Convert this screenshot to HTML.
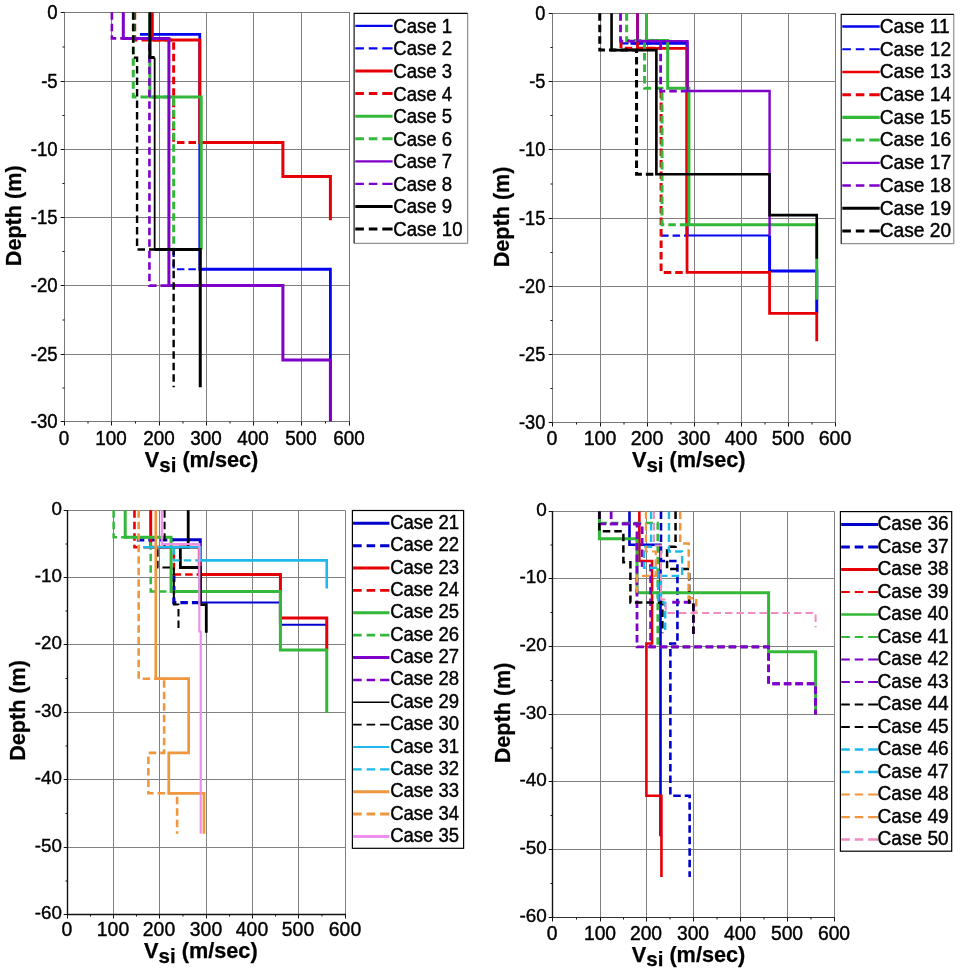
<!DOCTYPE html>
<html lang="en">
<head>
<meta charset="utf-8">
<title>Shear wave velocity profiles</title>
<style>
html,body{margin:0;padding:0;background:#fff;}
body{width:963px;height:970px;overflow:hidden;}
svg{display:block;}
text{white-space:pre;}
</style>
</head>
<body>
<svg width="963" height="970" viewBox="0 0 963 970">
<rect x="0" y="0" width="963" height="970" fill="#ffffff"/>
<g id="panel1">
<path d="M111.5 12.5V421.5M159.5 12.5V421.5M206.5 12.5V421.5M253.5 12.5V421.5M301.5 12.5V421.5M64.5 81.5H349.5M64.5 149.5H349.5M64.5 217.5H349.5M64.5 285.5H349.5M64.5 354.5H349.5" stroke="#808080" stroke-width="1" fill="none"/>
<rect x="64.5" y="12.5" width="285" height="409" fill="none" stroke="#777" stroke-width="1"/>
<path d="M64.5 421.5v4M111.5 421.5v4M159.5 421.5v4M206.5 421.5v4M253.5 421.5v4M301.5 421.5v4M349.5 421.5v4M88 421.5v2M135.5 421.5v2M183 421.5v2M230 421.5v2M277.5 421.5v2M325.5 421.5v2M64.5 12.5h-3.8M64.5 81.5h-3.8M64.5 149.5h-3.8M64.5 217.5h-3.8M64.5 285.5h-3.8M64.5 354.5h-3.8M64.5 421.5h-3.8M64.5 47h-2M64.5 115.5h-2M64.5 183.5h-2M64.5 251.5h-2M64.5 320h-2M64.5 388h-2" stroke="#111" stroke-width="1" fill="none"/>
<g fill="none" stroke-linejoin="miter" stroke-linecap="butt">
<polyline points="139.93,34.29 199.78,34.29 199.78,269.24 330.4,269.24 330.4,421.28" stroke="#0505f0" stroke-width="2.8"/>
<polyline points="173.65,249.47 173.65,269.24 199.78,269.24" stroke="#0505f0" stroke-width="2.2" stroke-dasharray="7.5 4"/>
<polyline points="152.28,12.2 152.28,39.88 199.78,39.88 199.78,142.42 282.9,142.42 282.9,176.51 330.4,176.51 330.4,220.15" stroke="#e60005" stroke-width="3"/>
<polyline points="134.7,12.2 134.7,39.88 173.65,39.88 173.65,142.42 199.78,142.42" stroke="#e60005" stroke-width="3" stroke-dasharray="7.5 4"/>
<polyline points="149.9,12.2 149.9,97.02 201.2,97.02 201.2,249.47" stroke="#33b83a" stroke-width="3"/>
<polyline points="133.28,12.2 133.28,97.02 173.65,97.02 173.65,249.47" stroke="#33b83a" stroke-width="3" stroke-dasharray="7.5 4"/>
<polyline points="123.3,12.2 123.3,38.38 168.9,38.38 168.9,285.6 282.9,285.6 282.9,359.92 330.4,359.92 330.4,421.28" stroke="#7f00c8" stroke-width="3"/>
<polyline points="111.9,12.2 111.9,38.38 149.43,38.38 149.43,285.6 168.9,285.6" stroke="#7f00c8" stroke-width="2.6" stroke-dasharray="7.5 4"/>
<polyline points="149.9,12.2 149.9,57.61 154.65,57.61" stroke="#000000" stroke-width="3"/>
<polyline points="154.65,249.47 200.25,249.47 200.25,387.19" stroke="#000000" stroke-width="3"/>
<polyline points="154.65,57.61 154.65,249.47" stroke="#000000" stroke-width="1.8"/>
<polyline points="133.28,12.2 133.28,57.61 137.07,57.61 137.07,249.47 173.65,249.47 173.65,387.19" stroke="#000000" stroke-width="2.4" stroke-dasharray="7.5 4"/>
</g>
<g font-family='"Liberation Sans", Arial, sans-serif' font-size="18.9" fill="#000" stroke="#000" stroke-width="0.4">
<text transform="translate(64 444.5) scale(1 1.108)" text-anchor="middle">0</text>
<text transform="translate(111 444.5) scale(1 1.108)" text-anchor="middle">100</text>
<text transform="translate(159 444.5) scale(1 1.108)" text-anchor="middle">200</text>
<text transform="translate(206 444.5) scale(1 1.108)" text-anchor="middle">300</text>
<text transform="translate(253 444.5) scale(1 1.108)" text-anchor="middle">400</text>
<text transform="translate(301 444.5) scale(1 1.108)" text-anchor="middle">500</text>
<text transform="translate(349 444.5) scale(1 1.108)" text-anchor="middle">600</text>
<text transform="translate(57.7 19.1) scale(1 1.1)" font-size="18.6" text-anchor="end">0</text>
<text transform="translate(57.7 88.1) scale(1 1.1)" font-size="18.6" text-anchor="end">-5</text>
<text transform="translate(57.7 156.1) scale(1 1.1)" font-size="18.6" text-anchor="end">-10</text>
<text transform="translate(57.7 224.1) scale(1 1.1)" font-size="18.6" text-anchor="end">-15</text>
<text transform="translate(57.7 292.1) scale(1 1.1)" font-size="18.6" text-anchor="end">-20</text>
<text transform="translate(57.7 361.1) scale(1 1.1)" font-size="18.6" text-anchor="end">-25</text>
<text transform="translate(57.7 428.1) scale(1 1.1)" font-size="18.6" text-anchor="end">-30</text>
</g>
<text x="144.8" y="467.4" font-family='"Liberation Sans", Arial, sans-serif' font-size="21.7" font-weight="bold" fill="#000" stroke="#000" stroke-width="0.25">V<tspan dy="4.3" font-size="20.5">si</tspan><tspan dy="-4.3"> (m/sec)</tspan></text>
<text transform="translate(20.9 215.8) rotate(-90)" text-anchor="middle" font-family='"Liberation Sans", Arial, sans-serif' font-size="21.6" font-weight="bold" fill="#000" stroke="#000" stroke-width="0.25">Depth (m)</text>
<rect x="354.1" y="13.4" width="113.6" height="229.9" fill="#fff" stroke="none"/>
<path d="M467.7 13.4V243.3H354.1" fill="none" stroke="#777" stroke-width="1"/>
<path d="M354.1 243.3V13.4H467.7" fill="none" stroke="#000" stroke-width="1.1"/>
<g font-family='"Liberation Sans", Arial, sans-serif' font-size="18.6" fill="#000" stroke="#000" stroke-width="0.4">
<path d="M355.3 25.9H392.6" stroke="#0505f0" stroke-width="2.2" fill="none" stroke-linecap="butt"/>
<text transform="translate(393.3 32.8) scale(1 1.12)">Case 1</text>
<path d="M355.3 48.47H392.6" stroke="#0505f0" stroke-width="2.2" stroke-dasharray="8.6 4.9 8.6 4.9 12 9" fill="none" stroke-linecap="butt"/>
<text transform="translate(393.3 55.37) scale(1 1.12)">Case 2</text>
<path d="M355.3 71.04H392.6" stroke="#e60005" stroke-width="3" fill="none" stroke-linecap="butt"/>
<text transform="translate(393.3 77.94) scale(1 1.12)">Case 3</text>
<path d="M355.3 93.61H392.6" stroke="#e60005" stroke-width="3" stroke-dasharray="8.6 4.9 8.6 4.9 12 9" fill="none" stroke-linecap="butt"/>
<text transform="translate(393.3 100.51) scale(1 1.12)">Case 4</text>
<path d="M355.3 116.18H392.6" stroke="#33b83a" stroke-width="3" fill="none" stroke-linecap="butt"/>
<text transform="translate(393.3 123.08) scale(1 1.12)">Case 5</text>
<path d="M355.3 138.75H392.6" stroke="#33b83a" stroke-width="3" stroke-dasharray="8.6 4.9 8.6 4.9 12 9" fill="none" stroke-linecap="butt"/>
<text transform="translate(393.3 145.65) scale(1 1.12)">Case 6</text>
<path d="M355.3 161.32H392.6" stroke="#7f00c8" stroke-width="2.2" fill="none" stroke-linecap="butt"/>
<text transform="translate(393.3 168.22) scale(1 1.12)">Case 7</text>
<path d="M355.3 183.89H392.6" stroke="#7f00c8" stroke-width="2.2" stroke-dasharray="8.6 4.9 8.6 4.9 12 9" fill="none" stroke-linecap="butt"/>
<text transform="translate(393.3 190.79) scale(1 1.12)">Case 8</text>
<path d="M355.3 206.46H392.6" stroke="#000000" stroke-width="3" fill="none" stroke-linecap="butt"/>
<text transform="translate(393.3 213.36) scale(1 1.12)">Case 9</text>
<path d="M355.3 229.03H392.6" stroke="#000000" stroke-width="3" stroke-dasharray="8.6 4.9 8.6 4.9 12 9" fill="none" stroke-linecap="butt"/>
<text transform="translate(393.3 235.93) scale(1 1.12)">Case 10</text>
</g>
</g>
<g id="panel2">
<path d="M600.5 13.5V422.5M647.5 13.5V422.5M694.5 13.5V422.5M741.5 13.5V422.5M788.5 13.5V422.5M552.5 81.5H835.5M552.5 149.5H835.5M552.5 218.5H835.5M552.5 286.5H835.5M552.5 354.5H835.5" stroke="#808080" stroke-width="1" fill="none"/>
<rect x="552.5" y="13.5" width="283" height="409" fill="none" stroke="#777" stroke-width="1"/>
<path d="M552.5 422.5v4M600.5 422.5v4M647.5 422.5v4M694.5 422.5v4M741.5 422.5v4M788.5 422.5v4M835.5 422.5v4M576.5 422.5v2M624 422.5v2M671 422.5v2M718 422.5v2M765 422.5v2M812 422.5v2M552.5 13.5h-3.8M552.5 81.5h-3.8M552.5 149.5h-3.8M552.5 218.5h-3.8M552.5 286.5h-3.8M552.5 354.5h-3.8M552.5 422.5h-3.8M552.5 47.5h-2M552.5 115.5h-2M552.5 184h-2M552.5 252.5h-2M552.5 320.5h-2M552.5 388.5h-2" stroke="#111" stroke-width="1" fill="none"/>
<g fill="none" stroke-linejoin="miter" stroke-linecap="butt">
<polyline points="630.43,43.3 687.03,43.3 687.03,235.57" stroke="#0505f0" stroke-width="3"/>
<polyline points="769.58,235.57 769.58,271.02 816.75,271.02 816.75,313.29" stroke="#0505f0" stroke-width="3"/>
<polyline points="687.03,235.57 769.58,235.57" stroke="#0505f0" stroke-width="2"/>
<polyline points="621,43.3 661.09,43.3" stroke="#0505f0" stroke-width="2.2" stroke-dasharray="7.5 4"/>
<polyline points="661.09,235.57 687.03,235.57" stroke="#0505f0" stroke-width="2.2" stroke-dasharray="7.5 4"/>
<polyline points="637.51,13.3 637.51,48.34 687.03,48.34 687.03,272.38 769.58,272.38 769.58,313.29 816.75,313.29 816.75,341.25" stroke="#e60005" stroke-width="2.8"/>
<polyline points="621,40.57 621,48.34 661.09,48.34" stroke="#e60005" stroke-width="3" stroke-dasharray="7.5 4"/>
<polyline points="661.09,91.03 661.09,272.38 687.03,272.38" stroke="#e60005" stroke-width="3" stroke-dasharray="7.5 4"/>
<polyline points="646.47,13.3 646.47,40.57 667.69,40.57 667.69,88.3 688.92,88.3 688.92,224.66 816.75,224.66 816.75,299.66" stroke="#33b83a" stroke-width="3"/>
<polyline points="626.66,13.3 626.66,40.57 644.58,40.57 644.58,88.3 662.03,88.3 662.03,224.66 688.92,224.66" stroke="#33b83a" stroke-width="3" stroke-dasharray="7.5 4"/>
<polyline points="637.51,13.3 637.51,41.12 687.51,41.12 687.51,91.03 769.58,91.03 769.58,235.57" stroke="#7f00c8" stroke-width="2.4"/>
<polyline points="620.52,13.3 620.52,41.12 660.62,41.12 660.62,91.03 687.51,91.03" stroke="#7f00c8" stroke-width="2.8" stroke-dasharray="7.5 4"/>
<polyline points="611.56,13.3 611.56,50.12 656.37,50.12 656.37,174.2 769.58,174.2 769.58,215.11 816.75,215.11 816.75,258.75" stroke="#000000" stroke-width="2.6"/>
<polyline points="599.77,13.3 599.77,50.12 636.56,50.12 636.56,174.2 656.37,174.2" stroke="#000000" stroke-width="3" stroke-dasharray="7.5 4"/>
</g>
<g font-family='"Liberation Sans", Arial, sans-serif' font-size="19.6" fill="#000" stroke="#000" stroke-width="0.4">
<text transform="translate(552 444.6) scale(1 1.03)" text-anchor="middle">0</text>
<text transform="translate(600 444.6) scale(1 1.03)" text-anchor="middle">100</text>
<text transform="translate(647 444.6) scale(1 1.03)" text-anchor="middle">200</text>
<text transform="translate(694 444.6) scale(1 1.03)" text-anchor="middle">300</text>
<text transform="translate(741 444.6) scale(1 1.03)" text-anchor="middle">400</text>
<text transform="translate(788 444.6) scale(1 1.03)" text-anchor="middle">500</text>
<text transform="translate(835 444.6) scale(1 1.03)" text-anchor="middle">600</text>
<text transform="translate(545.3 19.65) scale(1 1.14)" font-size="18.2" text-anchor="end">0</text>
<text transform="translate(545.3 87.65) scale(1 1.14)" font-size="18.2" text-anchor="end">-5</text>
<text transform="translate(545.3 155.65) scale(1 1.14)" font-size="18.2" text-anchor="end">-10</text>
<text transform="translate(545.3 224.65) scale(1 1.14)" font-size="18.2" text-anchor="end">-15</text>
<text transform="translate(545.3 292.65) scale(1 1.14)" font-size="18.2" text-anchor="end">-20</text>
<text transform="translate(545.3 360.65) scale(1 1.14)" font-size="18.2" text-anchor="end">-25</text>
<text transform="translate(545.3 428.65) scale(1 1.14)" font-size="18.2" text-anchor="end">-30</text>
</g>
<text x="632" y="467.4" font-family='"Liberation Sans", Arial, sans-serif' font-size="21.7" font-weight="bold" fill="#000" stroke="#000" stroke-width="0.25">V<tspan dy="4.3" font-size="20.5">si</tspan><tspan dy="-4.3"> (m/sec)</tspan></text>
<text transform="translate(508.5 216.9) rotate(-90)" text-anchor="middle" font-family='"Liberation Sans", Arial, sans-serif' font-size="21.6" font-weight="bold" fill="#000" stroke="#000" stroke-width="0.25">Depth (m)</text>
<rect x="841.2" y="14.4" width="112.6" height="229.3" fill="#fff" stroke="none"/>
<path d="M953.8 14.4V243.7H841.2" fill="none" stroke="#777" stroke-width="1"/>
<path d="M841.2 243.7V14.4H953.8" fill="none" stroke="#000" stroke-width="1.1"/>
<g font-family='"Liberation Sans", Arial, sans-serif' font-size="19.2" fill="#000" stroke="#000" stroke-width="0.4">
<path d="M842.3 26.6H879.7" stroke="#0505f0" stroke-width="2.5" fill="none" stroke-linecap="butt"/>
<text transform="translate(879.7 32.9) scale(1 1.085)">Case 11</text>
<path d="M842.3 49.3H879.7" stroke="#0505f0" stroke-width="2" stroke-dasharray="8.6 4.9 8.6 4.9 12 9" fill="none" stroke-linecap="butt"/>
<text transform="translate(879.7 55.6) scale(1 1.085)">Case 12</text>
<path d="M842.3 72H879.7" stroke="#e60005" stroke-width="2.6" fill="none" stroke-linecap="butt"/>
<text transform="translate(879.7 78.3) scale(1 1.085)">Case 13</text>
<path d="M842.3 94.7H879.7" stroke="#e60005" stroke-width="3" stroke-dasharray="8.6 4.9 8.6 4.9 12 9" fill="none" stroke-linecap="butt"/>
<text transform="translate(879.7 101) scale(1 1.085)">Case 14</text>
<path d="M842.3 117.4H879.7" stroke="#33b83a" stroke-width="3.2" fill="none" stroke-linecap="butt"/>
<text transform="translate(879.7 123.7) scale(1 1.085)">Case 15</text>
<path d="M842.3 140.1H879.7" stroke="#33b83a" stroke-width="3" stroke-dasharray="8.6 4.9 8.6 4.9 12 9" fill="none" stroke-linecap="butt"/>
<text transform="translate(879.7 146.4) scale(1 1.085)">Case 16</text>
<path d="M842.3 162.8H879.7" stroke="#7f00c8" stroke-width="2.2" fill="none" stroke-linecap="butt"/>
<text transform="translate(879.7 169.1) scale(1 1.085)">Case 17</text>
<path d="M842.3 185.5H879.7" stroke="#7f00c8" stroke-width="2.6" stroke-dasharray="8.6 4.9 8.6 4.9 12 9" fill="none" stroke-linecap="butt"/>
<text transform="translate(879.7 191.8) scale(1 1.085)">Case 18</text>
<path d="M842.3 208.2H879.7" stroke="#000000" stroke-width="3" fill="none" stroke-linecap="butt"/>
<text transform="translate(879.7 214.5) scale(1 1.085)">Case 19</text>
<path d="M842.3 230.9H879.7" stroke="#000000" stroke-width="3" stroke-dasharray="8.6 4.9 8.6 4.9 12 9" fill="none" stroke-linecap="butt"/>
<text transform="translate(879.7 237.2) scale(1 1.085)">Case 20</text>
</g>
</g>
<g id="panel3">
<path d="M113.5 510.5V914.5M159.5 510.5V914.5M206.5 510.5V914.5M252.5 510.5V914.5M298.5 510.5V914.5M67.5 577.5H345.5M67.5 644.5H345.5M67.5 712.5H345.5M67.5 779.5H345.5M67.5 847.5H345.5" stroke="#808080" stroke-width="1" fill="none"/>
<path d="M67.5 510.5H345.5V914.5" fill="none" stroke="#808080" stroke-width="1"/>
<path d="M67.5 510V914.5H346" fill="none" stroke="#111" stroke-width="1.4"/>
<path d="M67.5 914.5v4M113.5 914.5v4M159.5 914.5v4M206.5 914.5v4M252.5 914.5v4M298.5 914.5v4M345.5 914.5v4M90.5 914.5v2M136.5 914.5v2M183 914.5v2M229.5 914.5v2M275.5 914.5v2M322 914.5v2M67.5 510.5h-3.8M67.5 577.5h-3.8M67.5 644.5h-3.8M67.5 712.5h-3.8M67.5 779.5h-3.8M67.5 847.5h-3.8M67.5 914.5h-3.8M67.5 544h-2M67.5 611h-2M67.5 678.5h-2M67.5 746h-2M67.5 813.5h-2M67.5 881h-2" stroke="#111" stroke-width="1" fill="none"/>
<g fill="none" stroke-linejoin="miter" stroke-linecap="butt">
<polyline points="171.54,539.86 200.27,539.86 200.27,602.54" stroke="#0000cc" stroke-width="3"/>
<polyline points="280.42,602.54 280.42,624.78" stroke="#0000cc" stroke-width="3"/>
<polyline points="200.27,602.54 280.42,602.54" stroke="#0000cc" stroke-width="2"/>
<polyline points="280.42,624.78 326.75,624.78" stroke="#0000cc" stroke-width="2"/>
<polyline points="136.8,539.86 173.86,539.86" stroke="#0000cc" stroke-width="3.2" stroke-dasharray="7.5 4"/>
<polyline points="173.86,574.57 173.86,602.54 200.27,602.54" stroke="#0000cc" stroke-width="3.2" stroke-dasharray="7.5 4"/>
<polyline points="150.69,510.2 150.69,547.27 199.34,547.27 199.34,574.57 280.42,574.57 280.42,618.04 326.75,618.04 326.75,650.06" stroke="#e60005" stroke-width="3"/>
<polyline points="134.48,510.2 134.48,547.27 173.86,547.27 173.86,574.57 199.34,574.57" stroke="#e60005" stroke-width="2.6" stroke-dasharray="7.5 4"/>
<polyline points="125.21,510.2 125.21,537.16 171.08,537.16 171.08,591.42 280.42,591.42 280.42,650.06 326.75,650.06 326.75,713.07" stroke="#33b83a" stroke-width="3"/>
<polyline points="113.63,510.2 113.63,537.16 150.69,537.16 150.69,591.42 171.08,591.42" stroke="#33b83a" stroke-width="2.5" stroke-dasharray="7.5 4"/>
<polyline points="188.22,510.2 188.22,547.27 180.35,547.27 180.35,567.49 200.27,567.49 200.27,604.56 206.29,604.56 206.29,632.87" stroke="#000000" stroke-width="2.8"/>
<polyline points="164.59,510.2 164.59,547.27 157.64,547.27 157.64,567.49 173.86,567.49 173.86,604.56 178.49,604.56 178.49,629.5" stroke="#000000" stroke-width="2.0" stroke-dasharray="7.5 4"/>
<polyline points="143.74,547.27 200.27,547.27 200.27,560.41 326.75,560.41 326.75,588.38" stroke="#1eb9ea" stroke-width="2.6"/>
<polyline points="173.86,547.27 173.86,560.41 200.27,560.41" stroke="#1eb9ea" stroke-width="2.4" stroke-dasharray="7.5 4"/>
<polyline points="155.79,510.2 155.79,678.7" stroke="#f0963c" stroke-width="2.7"/>
<polyline points="155.79,678.7 188.68,678.7 188.68,752.84 168.76,752.84 168.76,793.28 203.97,793.28 203.97,833.72" stroke="#f0963c" stroke-width="2.7"/>
<polyline points="138.65,510.2 138.65,678.7 164.13,678.7 164.13,752.84 148.38,752.84 148.38,793.28 177.1,793.28 177.1,833.72" stroke="#f0963c" stroke-width="2.6" stroke-dasharray="7.5 4"/>
<polyline points="161.81,510.2 161.81,544.1 199.34,544.1 199.34,631.52 200.73,631.52 200.73,833.72" stroke="#ee8ff0" stroke-width="2.2"/>
</g>
<g font-family='"Liberation Sans", Arial, sans-serif' font-size="19.4" fill="#000" stroke="#000" stroke-width="0.4">
<text transform="translate(67 935.9) scale(1 1.008)" text-anchor="middle">0</text>
<text transform="translate(113 935.9) scale(1 1.008)" text-anchor="middle">100</text>
<text transform="translate(159 935.9) scale(1 1.008)" text-anchor="middle">200</text>
<text transform="translate(206 935.9) scale(1 1.008)" text-anchor="middle">300</text>
<text transform="translate(252 935.9) scale(1 1.008)" text-anchor="middle">400</text>
<text transform="translate(298 935.9) scale(1 1.008)" text-anchor="middle">500</text>
<text transform="translate(345 935.9) scale(1 1.008)" text-anchor="middle">600</text>
<text transform="translate(61.8 515.2) scale(1 0.985)" font-size="18.75" text-anchor="end">0</text>
<text transform="translate(61.8 582.2) scale(1 0.985)" font-size="18.75" text-anchor="end">-10</text>
<text transform="translate(61.8 649.2) scale(1 0.985)" font-size="18.75" text-anchor="end">-20</text>
<text transform="translate(61.8 717.2) scale(1 0.985)" font-size="18.75" text-anchor="end">-30</text>
<text transform="translate(61.8 784.2) scale(1 0.985)" font-size="18.75" text-anchor="end">-40</text>
<text transform="translate(61.8 852.2) scale(1 0.985)" font-size="18.75" text-anchor="end">-50</text>
<text transform="translate(61.8 919.2) scale(1 0.985)" font-size="18.75" text-anchor="end">-60</text>
</g>
<text x="144.1" y="958.3" font-family='"Liberation Sans", Arial, sans-serif' font-size="21.7" font-weight="bold" fill="#000" stroke="#000" stroke-width="0.25">V<tspan dy="4.3" font-size="20.5">si</tspan><tspan dy="-4.3"> (m/sec)</tspan></text>
<text transform="translate(24.7 710.4) rotate(-90)" text-anchor="middle" font-family='"Liberation Sans", Arial, sans-serif' font-size="21.6" font-weight="bold" fill="#000" stroke="#000" stroke-width="0.25">Depth (m)</text>
<rect x="352.4" y="510.5" width="111.2" height="337.8" fill="#fff" stroke="none"/>
<rect x="352.4" y="510.5" width="111.2" height="337.8" fill="none" stroke="#000" stroke-width="1.2"/>
<g font-family='"Liberation Sans", Arial, sans-serif' font-size="18.5" fill="#000" stroke="#000" stroke-width="0.4">
<path d="M353.1 523.3H389.4" stroke="#0000cc" stroke-width="3" fill="none" stroke-linecap="butt"/>
<text transform="translate(390.2 528.8) scale(1 1.065)">Case 21</text>
<path d="M353.1 545.67H389.4" stroke="#0000cc" stroke-width="3" stroke-dasharray="8.6 4.9 8.6 4.9 12 9" fill="none" stroke-linecap="butt"/>
<text transform="translate(390.2 551.17) scale(1 1.065)">Case 22</text>
<path d="M353.1 568.04H389.4" stroke="#e60005" stroke-width="3" fill="none" stroke-linecap="butt"/>
<text transform="translate(390.2 573.54) scale(1 1.065)">Case 23</text>
<path d="M353.1 590.41H389.4" stroke="#e60005" stroke-width="2.6" stroke-dasharray="8.6 4.9 8.6 4.9 12 9" fill="none" stroke-linecap="butt"/>
<text transform="translate(390.2 595.91) scale(1 1.065)">Case 24</text>
<path d="M353.1 612.78H389.4" stroke="#33b83a" stroke-width="3" fill="none" stroke-linecap="butt"/>
<text transform="translate(390.2 618.28) scale(1 1.065)">Case 25</text>
<path d="M353.1 635.15H389.4" stroke="#33b83a" stroke-width="2.8" stroke-dasharray="8.6 4.9 8.6 4.9 12 9" fill="none" stroke-linecap="butt"/>
<text transform="translate(390.2 640.65) scale(1 1.065)">Case 26</text>
<path d="M353.1 657.52H389.4" stroke="#7f00c8" stroke-width="3" fill="none" stroke-linecap="butt"/>
<text transform="translate(390.2 663.02) scale(1 1.065)">Case 27</text>
<path d="M353.1 679.89H389.4" stroke="#7f00c8" stroke-width="2.5" stroke-dasharray="8.6 4.9 8.6 4.9 12 9" fill="none" stroke-linecap="butt"/>
<text transform="translate(390.2 685.39) scale(1 1.065)">Case 28</text>
<path d="M353.1 702.26H389.4" stroke="#000000" stroke-width="1.6" fill="none" stroke-linecap="butt"/>
<text transform="translate(390.2 707.76) scale(1 1.065)">Case 29</text>
<path d="M353.1 724.63H389.4" stroke="#000000" stroke-width="1.6" stroke-dasharray="8.6 4.9 8.6 4.9 12 9" fill="none" stroke-linecap="butt"/>
<text transform="translate(390.2 730.13) scale(1 1.065)">Case 30</text>
<path d="M353.1 747H389.4" stroke="#1eb9ea" stroke-width="2.2" fill="none" stroke-linecap="butt"/>
<text transform="translate(390.2 752.5) scale(1 1.065)">Case 31</text>
<path d="M353.1 769.37H389.4" stroke="#1eb9ea" stroke-width="2.4" stroke-dasharray="8.6 4.9 8.6 4.9 12 9" fill="none" stroke-linecap="butt"/>
<text transform="translate(390.2 774.87) scale(1 1.065)">Case 32</text>
<path d="M353.1 791.74H389.4" stroke="#f0963c" stroke-width="3" fill="none" stroke-linecap="butt"/>
<text transform="translate(390.2 797.24) scale(1 1.065)">Case 33</text>
<path d="M353.1 814.11H389.4" stroke="#f0963c" stroke-width="3" stroke-dasharray="8.6 4.9 8.6 4.9 12 9" fill="none" stroke-linecap="butt"/>
<text transform="translate(390.2 819.61) scale(1 1.065)">Case 34</text>
<path d="M353.1 836.48H389.4" stroke="#ee8ff0" stroke-width="3" fill="none" stroke-linecap="butt"/>
<text transform="translate(390.2 841.98) scale(1 1.065)">Case 35</text>
</g>
</g>
<g id="panel4">
<path d="M600.5 511.5V917.5M646.5 511.5V917.5M693.5 511.5V917.5M740.5 511.5V917.5M787.5 511.5V917.5M552.5 578.5H834.5M552.5 646.5H834.5M552.5 714.5H834.5M552.5 781.5H834.5M552.5 849.5H834.5" stroke="#808080" stroke-width="1" fill="none"/>
<path d="M552.5 511.5H834.5V917.5" fill="none" stroke="#808080" stroke-width="1"/>
<path d="M552.5 917.5H835" fill="none" stroke="#333" stroke-width="1.1"/>
<path d="M552.5 511V918" fill="none" stroke="#111" stroke-width="1.4"/>
<path d="M552.5 917.5v4M600.5 917.5v4M646.5 917.5v4M693.5 917.5v4M740.5 917.5v4M787.5 917.5v4M834.5 917.5v4M576.5 917.5v2M623.5 917.5v2M670 917.5v2M717 917.5v2M764 917.5v2M811 917.5v2M552.5 511.5h-3.8M552.5 578.5h-3.8M552.5 646.5h-3.8M552.5 714.5h-3.8M552.5 781.5h-3.8M552.5 849.5h-3.8M552.5 917.5h-3.8M552.5 545h-2M552.5 612.5h-2M552.5 680.5h-2M552.5 748h-2M552.5 815.5h-2M552.5 883.5h-2" stroke="#111" stroke-width="1" fill="none"/>
<g fill="none" stroke-linejoin="miter" stroke-linecap="butt">
<polyline points="629.48,511.6 629.48,544.75 660.5,544.75 660.5,836.32" stroke="#0000cc" stroke-width="2.6"/>
<polyline points="660.97,511.6 660.97,560.98 677.42,560.98 677.42,643.52 670.37,643.52 670.37,795.73 689.64,795.73 689.64,876.91" stroke="#0000cc" stroke-width="2.6" stroke-dasharray="7.5 4"/>
<polyline points="639.35,511.6 639.35,560.98 652.04,560.98 652.04,643.52 646.4,643.52 646.4,795.73 661.44,795.73 661.44,876.91" stroke="#e60005" stroke-width="2.6"/>
<polyline points="599.4,511.6 599.4,538.66 637,538.66 637,592.78 768.6,592.78 768.6,651.64 815.6,651.64 815.6,714.55" stroke="#33b83a" stroke-width="3"/>
<polyline points="599.4,511.6 599.4,523.1 657.68,523.1 657.68,646.9 768.6,646.9" stroke="#33b83a" stroke-width="2.5" stroke-dasharray="7.5 4"/>
<polyline points="611.15,511.6 611.15,523.78 642.17,523.78 642.17,565.72 650.63,565.72 650.63,646.9 768.6,646.9 768.6,683.77 815.6,683.77 815.6,714.55" stroke="#7f00c8" stroke-width="2.8" stroke-dasharray="7.5 4"/>
<polyline points="599.4,511.6 599.4,523.78 637,523.78 637,646.9 768.6,646.9 768.6,683.77 815.6,683.77 815.6,714.55" stroke="#7f00c8" stroke-width="2.8" stroke-dasharray="7.5 4"/>
<polyline points="672.25,602.25 693.4,602.25 693.4,634.05" stroke="#7f00c8" stroke-width="2.8" stroke-dasharray="7.5 4"/>
<polyline points="599.4,511.6 599.4,531.22 623.37,531.22 623.37,562.34 630.42,562.34 630.42,602.59 662.38,602.59 662.38,633.37" stroke="#000000" stroke-width="2.5" stroke-dasharray="7.5 4"/>
<polyline points="675.54,511.6 675.54,546.78 667.08,546.78 667.08,569.1 689.17,569.1 689.17,602.59 693.4,602.59 693.4,634.05" stroke="#000000" stroke-width="2.5" stroke-dasharray="7.5 4"/>
<polyline points="651.1,511.6 651.1,546.78 644.05,546.78 644.05,567.75 658.15,567.75 658.15,602.93" stroke="#1eb9ea" stroke-width="2.4" stroke-dasharray="7.5 4"/>
<polyline points="668.96,511.6 668.96,551.51 682.12,551.51 682.12,575.87 660.97,575.87 660.97,602.59 665.2,602.59 665.2,633.37" stroke="#1eb9ea" stroke-width="2.4" stroke-dasharray="7.5 4"/>
<polyline points="645.93,511.6 645.93,551.51 655.8,551.51 655.8,575.87 637,575.87 637,592.78" stroke="#f0963c" stroke-width="2.2" stroke-dasharray="7.5 4"/>
<polyline points="680.24,511.6 680.24,543.4 688.7,543.4 688.7,598.19 696.22,598.19 696.22,611.72" stroke="#f0963c" stroke-width="2.5" stroke-dasharray="7.5 4"/>
<polyline points="653.92,511.6 653.92,545.43 660.97,545.43 660.97,599.55 665.67,599.55 665.67,613.08 815.6,613.08 815.6,627.28" stroke="#f08cc0" stroke-width="2.0" stroke-dasharray="7.5 4"/>
</g>
<g font-family='"Liberation Sans", Arial, sans-serif' font-size="19.3" fill="#000" stroke="#000" stroke-width="0.4">
<text transform="translate(552 939.7) scale(1 1.026)" text-anchor="middle">0</text>
<text transform="translate(600 939.7) scale(1 1.026)" text-anchor="middle">100</text>
<text transform="translate(646 939.7) scale(1 1.026)" text-anchor="middle">200</text>
<text transform="translate(693 939.7) scale(1 1.026)" text-anchor="middle">300</text>
<text transform="translate(740 939.7) scale(1 1.026)" text-anchor="middle">400</text>
<text transform="translate(787 939.7) scale(1 1.026)" text-anchor="middle">500</text>
<text transform="translate(834 939.7) scale(1 1.026)" text-anchor="middle">600</text>
<text transform="translate(546.7 516.4) scale(1 1.0)" font-size="18.9" text-anchor="end">0</text>
<text transform="translate(546.7 583.4) scale(1 1.0)" font-size="18.9" text-anchor="end">-10</text>
<text transform="translate(546.7 651.4) scale(1 1.0)" font-size="18.9" text-anchor="end">-20</text>
<text transform="translate(546.7 719.4) scale(1 1.0)" font-size="18.9" text-anchor="end">-30</text>
<text transform="translate(546.7 786.4) scale(1 1.0)" font-size="18.9" text-anchor="end">-40</text>
<text transform="translate(546.7 854.4) scale(1 1.0)" font-size="18.9" text-anchor="end">-50</text>
<text transform="translate(546.7 922.4) scale(1 1.0)" font-size="18.9" text-anchor="end">-60</text>
</g>
<text x="631.8" y="961.7" font-family='"Liberation Sans", Arial, sans-serif' font-size="21.7" font-weight="bold" fill="#000" stroke="#000" stroke-width="0.25">V<tspan dy="4.3" font-size="20.5">si</tspan><tspan dy="-4.3"> (m/sec)</tspan></text>
<text transform="translate(509.6 712.9) rotate(-90)" text-anchor="middle" font-family='"Liberation Sans", Arial, sans-serif' font-size="21.6" font-weight="bold" fill="#000" stroke="#000" stroke-width="0.25">Depth (m)</text>
<rect x="840.4" y="511.6" width="111.3" height="339.6" fill="#fff" stroke="none"/>
<rect x="840.4" y="511.6" width="111.3" height="339.6" fill="none" stroke="#000" stroke-width="1.2"/>
<g font-family='"Liberation Sans", Arial, sans-serif' font-size="19.1" fill="#000" stroke="#000" stroke-width="0.4">
<path d="M841.2 524.4H878" stroke="#0000cc" stroke-width="3" fill="none" stroke-linecap="butt"/>
<text transform="translate(877.5 530.1) scale(1 1.042)">Case 36</text>
<path d="M841.2 546.91H878" stroke="#0000cc" stroke-width="3" stroke-dasharray="8.6 4.9 8.6 4.9 12 9" fill="none" stroke-linecap="butt"/>
<text transform="translate(877.5 552.61) scale(1 1.042)">Case 37</text>
<path d="M841.2 569.42H878" stroke="#e60005" stroke-width="3" fill="none" stroke-linecap="butt"/>
<text transform="translate(877.5 575.12) scale(1 1.042)">Case 38</text>
<path d="M841.2 591.93H878" stroke="#e60005" stroke-width="2" stroke-dasharray="8.6 4.9 8.6 4.9 12 9" fill="none" stroke-linecap="butt"/>
<text transform="translate(877.5 597.63) scale(1 1.042)">Case 39</text>
<path d="M841.2 614.44H878" stroke="#33b83a" stroke-width="2.6" fill="none" stroke-linecap="butt"/>
<text transform="translate(877.5 620.14) scale(1 1.042)">Case 40</text>
<path d="M841.2 636.95H878" stroke="#33b83a" stroke-width="2" stroke-dasharray="8.6 4.9 8.6 4.9 12 9" fill="none" stroke-linecap="butt"/>
<text transform="translate(877.5 642.65) scale(1 1.042)">Case 41</text>
<path d="M841.2 659.46H878" stroke="#7f00c8" stroke-width="2" stroke-dasharray="8.6 4.9 8.6 4.9 12 9" fill="none" stroke-linecap="butt"/>
<text transform="translate(877.5 665.16) scale(1 1.042)">Case 42</text>
<path d="M841.2 681.97H878" stroke="#7f00c8" stroke-width="2" stroke-dasharray="8.6 4.9 8.6 4.9 12 9" fill="none" stroke-linecap="butt"/>
<text transform="translate(877.5 687.67) scale(1 1.042)">Case 43</text>
<path d="M841.2 704.48H878" stroke="#000000" stroke-width="1.8" stroke-dasharray="8.6 4.9 8.6 4.9 12 9" fill="none" stroke-linecap="butt"/>
<text transform="translate(877.5 710.18) scale(1 1.042)">Case 44</text>
<path d="M841.2 726.99H878" stroke="#000000" stroke-width="1.8" stroke-dasharray="8.6 4.9 8.6 4.9 12 9" fill="none" stroke-linecap="butt"/>
<text transform="translate(877.5 732.69) scale(1 1.042)">Case 45</text>
<path d="M841.2 749.5H878" stroke="#1eb9ea" stroke-width="2.4" stroke-dasharray="8.6 4.9 8.6 4.9 12 9" fill="none" stroke-linecap="butt"/>
<text transform="translate(877.5 755.2) scale(1 1.042)">Case 46</text>
<path d="M841.2 772.01H878" stroke="#1eb9ea" stroke-width="2.4" stroke-dasharray="8.6 4.9 8.6 4.9 12 9" fill="none" stroke-linecap="butt"/>
<text transform="translate(877.5 777.71) scale(1 1.042)">Case 47</text>
<path d="M841.2 794.52H878" stroke="#f0963c" stroke-width="2.2" stroke-dasharray="8.6 4.9 8.6 4.9 12 9" fill="none" stroke-linecap="butt"/>
<text transform="translate(877.5 800.22) scale(1 1.042)">Case 48</text>
<path d="M841.2 817.03H878" stroke="#f0963c" stroke-width="2.2" stroke-dasharray="8.6 4.9 8.6 4.9 12 9" fill="none" stroke-linecap="butt"/>
<text transform="translate(877.5 822.73) scale(1 1.042)">Case 49</text>
<path d="M841.2 839.54H878" stroke="#f08cc0" stroke-width="2.6" stroke-dasharray="8.6 4.9 8.6 4.9 12 9" fill="none" stroke-linecap="butt"/>
<text transform="translate(877.5 845.24) scale(1 1.042)">Case 50</text>
</g>
</g>
</svg>
</body>
</html>
